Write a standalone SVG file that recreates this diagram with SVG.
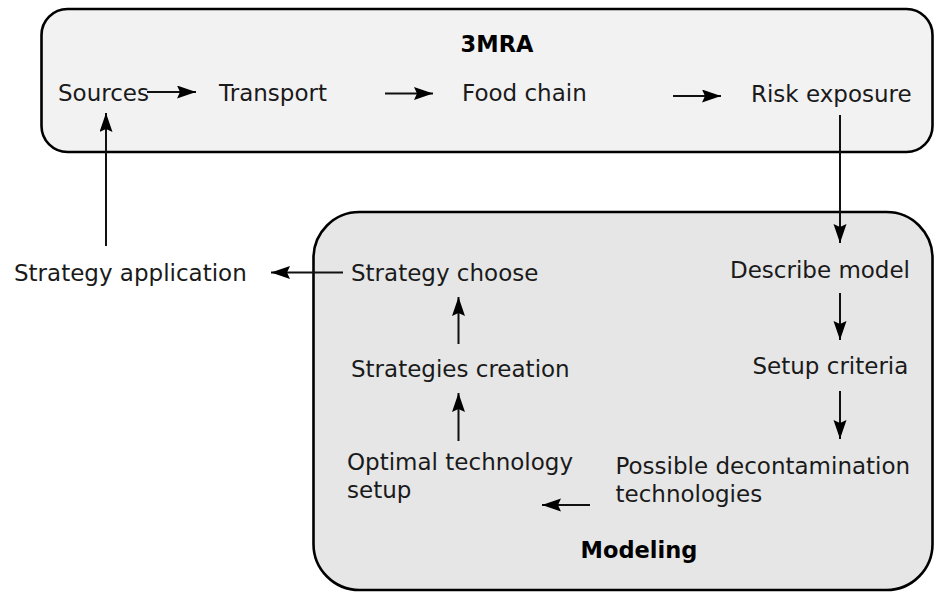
<svg xmlns="http://www.w3.org/2000/svg" width="935" height="592" viewBox="0 0 935 592">
<defs>
<marker id="ah" markerWidth="20" markerHeight="14" refX="19" refY="6.5" orient="auto" markerUnits="userSpaceOnUse">
<path d="M0,0 L19,6.5 L0,13 L3,6.5 z" fill="#000"/>
</marker>
<style>
.t{font-family:"DejaVu Sans",sans-serif;font-size:23px;fill:#1a1a1a}
.b{font-family:"DejaVu Sans",sans-serif;font-size:22.5px;font-weight:bold;fill:#000}
.c{stroke:#111;stroke-width:2;fill:none}
.box{stroke:#000;stroke-width:2.6}
</style>
</defs>
<rect width="935" height="592" fill="#fff"/>
<g id="mra">
<rect class="box" x="41.5" y="9" width="891" height="143" rx="26" fill="#f2f2f2"/>
<text class="b" x="497" y="52" text-anchor="middle">3MRA</text>
</g>
<g id="modeling">
<rect class="box" x="313.5" y="212" width="619" height="378" rx="46" fill="#e6e6e6"/>
<text class="b" x="639" y="558" text-anchor="middle">Modeling</text>
</g>
<g id="sources"><text class="t" x="58" y="100.5">Sources</text></g>
<g id="transport"><text class="t" x="219" y="101">Transport</text></g>
<g id="foodchain"><text class="t" x="462" y="101">Food chain</text></g>
<g id="risk"><text class="t" x="751" y="101.5">Risk exposure</text></g>
<g id="strategyapp"><text class="t" x="14" y="281">Strategy application</text></g>
<g id="strategychoose"><text class="t" x="351" y="280.5">Strategy choose</text></g>
<g id="describe"><text class="t" x="730" y="277.5">Describe model</text></g>
<g id="strategiescreation"><text class="t" x="351" y="377">Strategies creation</text></g>
<g id="setupcriteria"><text class="t" x="752.5" y="374">Setup criteria</text></g>
<g id="optimal"><text class="t" x="347" y="470">Optimal technology</text><text class="t" x="347" y="497.5">setup</text></g>
<g id="possible"><text class="t" x="615.5" y="473.5">Possible decontamination</text><text class="t" x="615.5" y="501.5">technologies</text></g>
<g id="connectors">
<line class="c" x1="147" y1="92" x2="196" y2="92" marker-end="url(#ah)"/>
<line class="c" x1="385" y1="93.5" x2="433" y2="93.5" marker-end="url(#ah)"/>
<line class="c" x1="673" y1="96" x2="721" y2="96" marker-end="url(#ah)"/>
<line class="c" x1="840" y1="115" x2="840" y2="243" marker-end="url(#ah)"/>
<line class="c" x1="106" y1="246" x2="106" y2="113" marker-end="url(#ah)"/>
<line class="c" x1="343" y1="272.5" x2="271" y2="272.5" marker-end="url(#ah)"/>
<line class="c" x1="458.5" y1="344" x2="458.5" y2="297" marker-end="url(#ah)"/>
<line class="c" x1="458.5" y1="441" x2="458.5" y2="393" marker-end="url(#ah)"/>
<line class="c" x1="840" y1="293" x2="840" y2="340" marker-end="url(#ah)"/>
<line class="c" x1="840" y1="391" x2="840" y2="439" marker-end="url(#ah)"/>
<line class="c" x1="590" y1="505" x2="542" y2="505" marker-end="url(#ah)"/>
</g>
</svg>
